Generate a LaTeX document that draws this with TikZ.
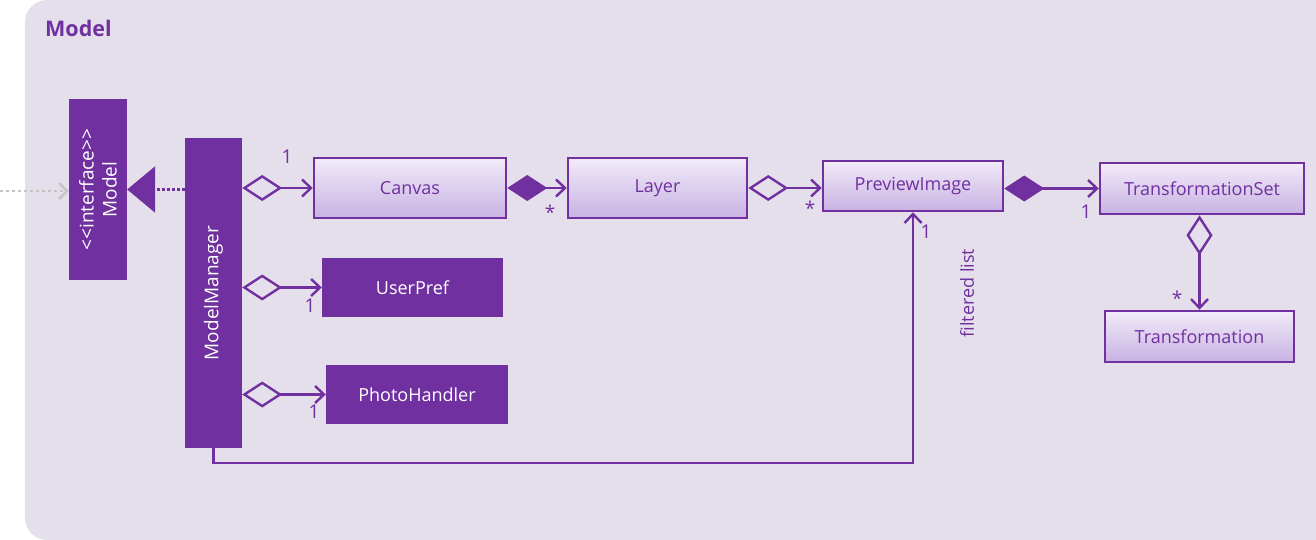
\documentclass[tikz,border=0pt]{standalone}
\usepackage{fontspec}
\setmainfont{Open Sans}[Ligatures=TeXOff]
\usetikzlibrary{arrows.meta,positioning}
\definecolor{umlpurple}{HTML}{7030A0}
\definecolor{pkgback}{HTML}{E5DFEC}
\definecolor{classtop}{HTML}{F1EBF9}
\definecolor{classbot}{HTML}{C8B2E2}
\definecolor{extgrey}{HTML}{C4C4C4}

\begin{document}
\begin{tikzpicture}[
    x=1pt, y=-1pt,
    font=\fontsize{18}{21}\selectfont,
    classbox/.style={draw=umlpurple, line width=2.5pt, top color=classtop, bottom color=classbot, text=umlpurple, inner sep=0pt},
    solidbox/.style={fill=umlpurple, text=white, inner sep=0pt},
    vtext/.style={rotate=90, text=white, align=center, font=\fontsize{19}{23}\selectfont},
    mult/.style={text=umlpurple, inner sep=0pt, font=\fontsize{19}{22}\selectfont},
    assoc/.style={draw=umlpurple, line width=2.4pt},
    agg/.style={assoc, {Diamond[open, length=40pt, width=26pt]}-{Straight Barb[length=9pt, width=17pt]}},
    comp/.style={assoc, {Diamond[length=40pt, width=26pt]}-{Straight Barb[length=9pt, width=17pt]}}
]

\useasboundingbox (0,0) rectangle (1316,540);
\clip (0,0) rectangle (1316,540);
\fill[pkgback, rounded corners=22pt] (25,0) rectangle (1360,540);
\node[text=umlpurple, font=\bfseries\fontsize{21.5}{24}\selectfont, anchor=west, inner sep=0pt] (title) at (45,28) {Model};

\node[solidbox, minimum width=58pt, minimum height=181pt, label={[vtext]center:{<<interface>>\\Model}}] (model) at (98,189.5) {};
\node[solidbox, minimum width=57pt, minimum height=310pt, label={[vtext]center:ModelManager}] (mm) at (213.5,293) {};

\node[classbox, minimum width=192pt, minimum height=60pt] (canvas) at (410,188) {Canvas};
\node[classbox, minimum width=179pt, minimum height=60pt] (layer) at (657.5,188) {Layer};
\node[classbox, minimum width=180pt, minimum height=50pt] (preview) at (913,186) {PreviewImage};
\node[classbox, minimum width=204pt, minimum height=51pt] (tset) at (1202,188.5) {TransformationSet};
\node[classbox, minimum width=189pt, minimum height=51pt] (trans) at (1199.5,336.5) {Transformation};
\node[solidbox, minimum width=181pt, minimum height=59pt] (userpref) at (412.5,287.5) {UserPref};
\node[solidbox, minimum width=182pt, minimum height=59pt] (photo) at (417,394.5) {PhotoHandler};

\coordinate (outside) at (0,191);
\draw[extgrey, line width=2.5pt, dash pattern=on 3pt off 3pt, -{Straight Barb[length=8pt, width=16pt]}] (outside) -- (model.west |- outside);
\draw[umlpurple, line width=3pt, dash pattern=on 3pt off 2pt, -{Triangle[length=28pt, width=46pt]}] (mm.west |- model.east) -- (model.east);

\draw[agg] (mm.east |- canvas.west) -- (canvas.west);
\draw[comp] (canvas.east) -- (layer.west);
\draw[agg] (layer.east) -- (preview.west |- layer.east);
\draw[comp] (preview.east |- tset.west) -- (tset.west);
\draw[agg] (trans.north |- tset.south) -- (trans.north);
\draw[agg] (mm.east |- userpref.west) -- (userpref.west);
\draw[agg] (mm.east |- photo.west) -- (photo.west);
\draw[assoc, -{Straight Barb[length=9pt, width=17pt]}] (mm.south) -- ++(0,15) -| (preview.south);

\node[mult] (mcanvas) at (287,157) {1};
\node[mult] (mlayer) at (550,212) {*};
\node[mult] (mpreview) at (810,208) {*};
\node[mult] (mtset) at (1086,212) {1};
\node[mult] (mtrans) at (1177,298) {*};
\node[mult] (muserpref) at (310,306) {1};
\node[mult] (mphoto) at (314,412) {1};
\node[mult] (mfiltered) at (926,232) {1};
\node[mult, rotate=90, font=\fontsize{18}{21}\selectfont] (filtered) at (967,293) {filtered list};

\end{tikzpicture}
\end{document}
